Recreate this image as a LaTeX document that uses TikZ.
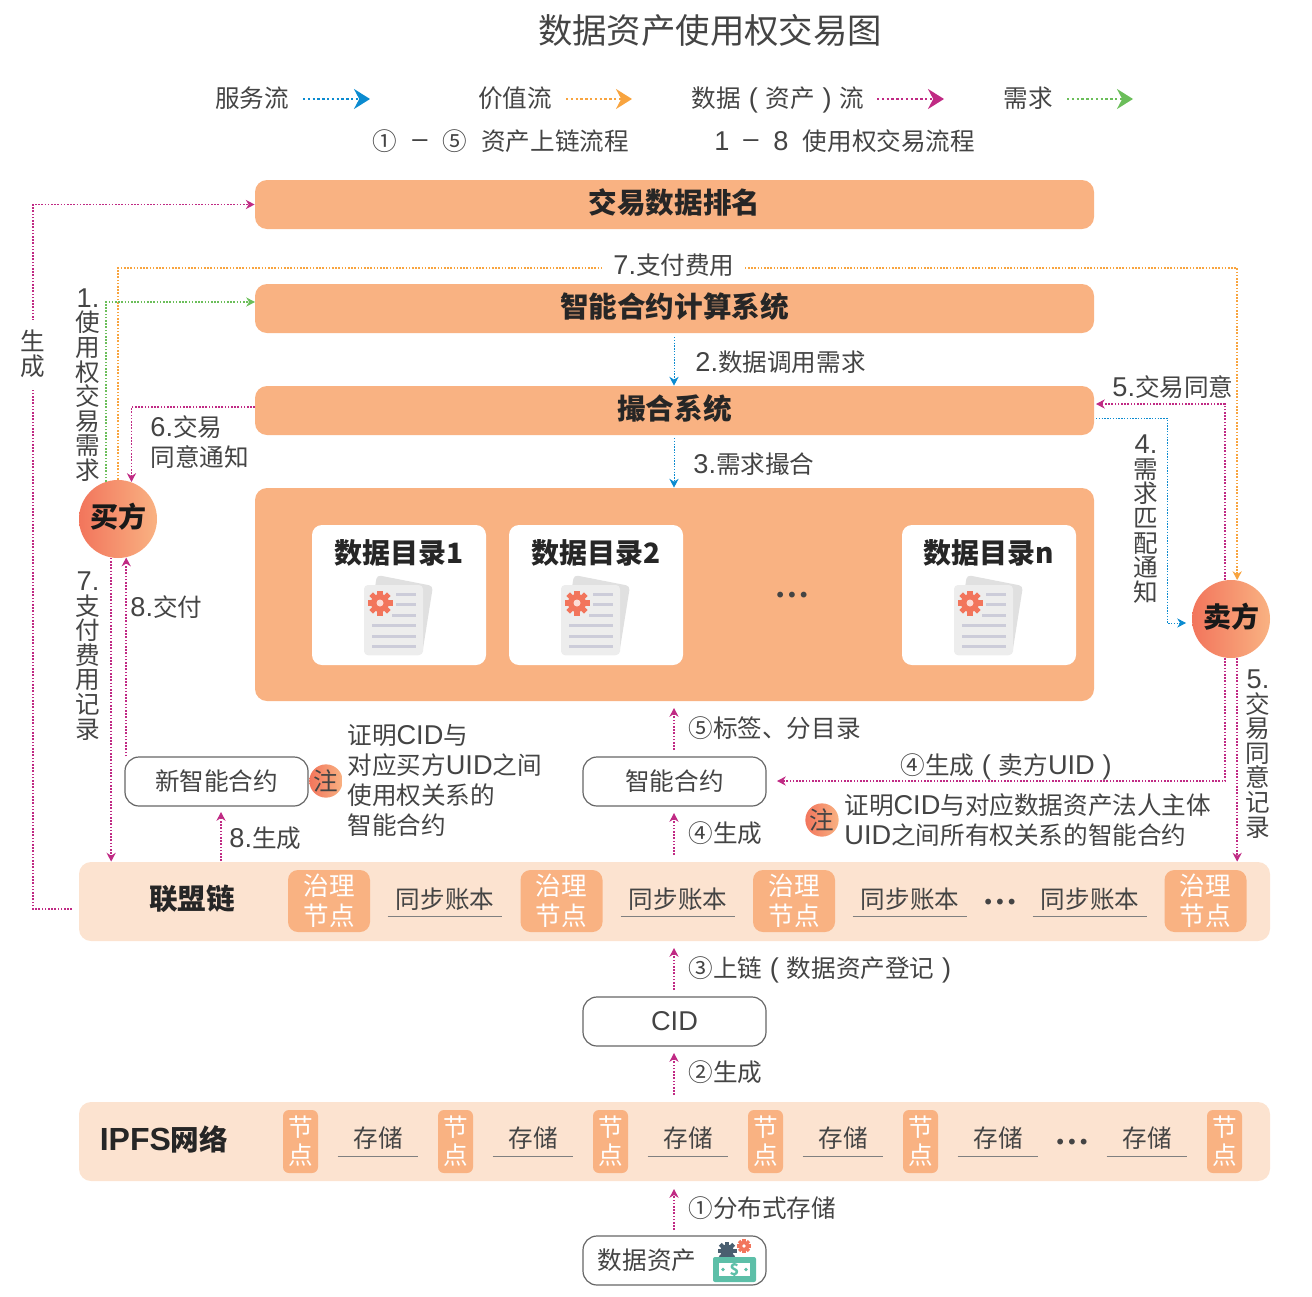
\documentclass[tikz,border=0pt]{standalone}
\usepackage{fontspec}
\usepackage{tikz}
\usepackage{xcolor}
\usetikzlibrary{arrows.meta}
\setmainfont{Noto Sans CJK SC}
\newfontfamily\latinfont{Liberation Sans}
\newfontfamily\dotfont{DejaVu Sans}
\newcommand{\lat}[1]{{\latinfont\fontsize{13.6}{15}\selectfont #1}}
\newcommand{\lpar}{\makebox[1em]{\lat{(}}}
\newcommand{\rpar}{\makebox[1em]{\lat{)}}}
\lineskiplimit-8pt

\definecolor{barorange}{HTML}{F9B282}
\definecolor{palebar}{HTML}{FCE3D0}
\definecolor{redstart}{HTML}{F2755C}
\definecolor{inkgrey}{HTML}{444444}
\definecolor{flowblue}{HTML}{0B8BD0}
\definecolor{floworange}{HTML}{F7941D}
\definecolor{flowpink}{HTML}{B5046E}
\definecolor{flowgreen}{HTML}{6BBE5A}
\definecolor{billgreen}{HTML}{5DBFA8}
\definecolor{geardark}{HTML}{4A5F70}

\tikzset{
	txt/.style={inner sep=0pt, text=inkgrey, font=\fontsize{12.3}{15}\selectfont},
	lefttxt/.style={txt, anchor=west, align=left},
	stack/.style={inner sep=0pt, text=inkgrey, align=center, font=\fontsize{12.3}{12.3}\selectfont},
	bar/.style={fill=barorange, rounded corners=6pt, minimum width=419.5pt, minimum height=24.5pt, inner sep=0pt, text height=12pt, text depth=3.2pt, font=\fontsize{14.3}{15}\selectfont\bfseries, text=black!85},
	pale/.style={fill=palebar, rounded corners=6pt, minimum width=595.5pt, minimum height=39.5pt, inner sep=0pt},
	card/.style={fill=white, rounded corners=5pt, minimum width=87pt, minimum height=70pt, inner sep=0pt},
	cardhead/.style={inner sep=0pt, font=\fontsize{14}{15}\selectfont\bfseries, text=black!85},
	party/.style={circle, left color=redstart, right color=barorange, minimum size=39pt, inner sep=0pt, text height=12pt, text depth=3.2pt, font=\fontsize{14}{15}\selectfont\bfseries, text=black!90},
	note/.style={circle, left color=redstart, right color=barorange, minimum size=16pt, inner sep=0pt, text=inkgrey, font=\fontsize{12.3}{15}\selectfont},
	outline/.style={draw=black!60, line width=0.6pt, fill=white, rounded corners=7pt, minimum width=91.5pt, minimum height=24.5pt, inner sep=0pt, text=inkgrey, font=\fontsize{12.3}{15}\selectfont},
	govern/.style={fill=barorange, rounded corners=5pt, minimum width=41pt, minimum height=31pt, inner sep=0pt, align=center, text=white, font=\fontsize{12.8}{15}\selectfont},
	peer/.style={fill=barorange, rounded corners=3pt, minimum width=17.5pt, minimum height=31.5pt, inner sep=0pt, align=center, text=white, font=\fontsize{12.3}{14}\selectfont},
	ledger/.style={txt, minimum width=57pt, minimum height=17pt},
	store/.style={txt, minimum width=40pt, minimum height=18pt},
	rule/.style={draw=black!50, line width=0.5pt},
	ddd/.style={inner sep=0pt, text=inkgrey, font=\dotfont\fontsize{10}{10}\selectfont},
	>={Stealth[length=4.4pt, width=4.6pt]},
	bluef/.style={draw=flowblue, line width=0.5pt, dash pattern=on 0.7pt off 0.7pt, ->},
	orangef/.style={draw=floworange!85, line width=0.7pt, dash pattern=on 0.8pt off 0.8pt, ->},
	pinkf/.style={draw=flowpink!85, line width=0.7pt, dash pattern=on 0.8pt off 0.8pt, ->},
	greenf/.style={draw=flowgreen, line width=0.7pt, dash pattern=on 0.8pt off 0.8pt, ->},
	bigtip/.style={>={Stealth[length=8pt, width=10pt]}, line width=1pt, dash pattern=on 1.2pt off 1.2pt},
	docicon/.pic={
		\fill[fill=black!12, rounded corners=2pt] (-22,-35) -- (34,-24) -- (23,45) -- (-35,45) -- cycle;
		\fill[fill=black!7, rounded corners=2pt] (-35,-25) rectangle (24,45);
		\foreach \ly/\lx in {-16/-3,-6/-3,5/-7,15/-27,26/-27,36/-27}
			\fill[fill=blue!25!black!20] (\lx,\ly-1.5) rectangle (17,\ly+1.5);
		\fill[fill=redstart] (-19,-7) circle (9);
		\foreach \a in {0,45,...,315}
			\fill[fill=redstart, shift={(-19,-7)}, rotate=\a] (-2.6,-12.5) rectangle (2.6,0);
		\fill[fill=white!75!redstart] (-19,-7) circle (3.5);
	},
}

\begin{document}
\begin{tikzpicture}[x=0.5pt, y=-0.5pt]
	\useasboundingbox (0,0) rectangle (1312,1296);

	% title and legend
	\node[inner sep=0pt, text=inkgrey, font=\fontsize{17.2}{18}\selectfont] (title) at (710,30) {数据资产使用权交易图};
	\node[txt] (lgserve) at (252,98) {服务流};
	\node[txt] (lgvalue) at (515,98) {价值流};
	\node[txt] (lgdata) at (778,100) {数据\lpar 资产\rpar 流};
	\node[txt] (lgneed) at (1028,98) {需求};
	\coordinate (a1) at (303,99);
	\coordinate (b1) at (370,99);
	\coordinate (a2) at (566,99);
	\coordinate (b2) at (632,99);
	\coordinate (a3) at (877,99);
	\coordinate (b3) at (944,99);
	\coordinate (a4) at (1067,99);
	\coordinate (b4) at (1133,99);
	\draw[bluef, bigtip] (a1) to (b1);
	\draw[orangef, bigtip] (a2) to (b2);
	\draw[pinkf, bigtip] (a3) to (b3);
	\draw[greenf, bigtip] (a4) to (b4);
	\node[txt] (k1) at (385,141) {①};
	\node[txt] (k2) at (420,144) {\lat{–}};
	\node[txt] (k3) at (455,141) {⑤};
	\node[txt] (k4) at (555,141) {资产上链流程};
	\node[txt] (k5) at (722,141) {\lat{1}};
	\node[txt] (k6) at (751,144) {\lat{–}};
	\node[txt] (k7) at (781,141) {\lat{8}};
	\node[txt] (k8) at (889,141) {使用权交易流程};

	% platform bars
	\node[bar] (rank) at (674.5,204.5) {交易数据排名};
	\node[bar] (smart) at (674.5,308.5) {智能合约计算系统};
	\node[bar] (match) at (674.5,410.5) {撮合系统};
	\node[bar, minimum height=106.5pt] (market) at (674.5,594.5) {};
	\foreach \i/\x/\t in {1/399/数据目录1, 2/596/数据目录2, 3/989/数据目录n} {
		\node[card] (cat\i) at (\x,595) {};
		\node[cardhead] (head\i) at (\x,553) {\t};
		\pic at (\x,610) {docicon};
	}
	\node[ddd] (catdots) at (792,597) {•••};

	% parties
	\node[party] (buyer) at (118,519) {买方};
	\node[party] (seller) at (1231,619) {卖方};

	% contracts
	\node[outline] (newcontract) at (216.5,781.5) {新智能合约};
	\node[outline] (contract) at (674.5,781.5) {智能合约};
	\node[outline] (cid) at (674.5,1021.5) {\lat{CID}};
	\node[outline] (asset) at (674.5,1260.5) {};
	\node[txt] (assettext) at (647,1260) {数据资产};
	\node[note] (note1) at (326,781) {注};
	\node[note] (note2) at (822,820) {注};
	\node[lefttxt] (notetext1) at (347,780) {证明\lat{CID}与\\对应买方\lat{UID}之间\\使用权关系的\\智能合约};
	\node[lefttxt] (notetext2) at (844,820) {证明\lat{CID}与对应数据资产法人主体\\\lat{UID}之间所有权关系的智能合约};

	% asset icon
	\fill[fill=geardark] (727,1251) circle (6.5);
	\foreach \a in {0,45,...,315}
		\fill[fill=geardark, shift={(727,1251)}, rotate=\a] (-2,-9.5) rectangle (2,0);
	\fill[fill=redstart] (744,1246) circle (4.5);
	\foreach \a in {0,45,...,315}
		\fill[fill=redstart, shift={(744,1246)}, rotate=\a] (-1.6,-7) rectangle (1.6,0);
	\fill[fill=white] (744,1246) circle (1.8);
	\fill[fill=billgreen, rounded corners=1pt] (713,1257) rectangle (756,1282);
	\fill[fill=white] (719,1263) rectangle (750,1276);
	\fill[fill=billgreen] (723,1269.5) circle (1.8) (746,1269.5) circle (1.8);
	\node[inner sep=0pt, text=billgreen, font=\fontsize{8}{9}\selectfont\bfseries] (dollar) at (734.5,1269.5) {\$};

	% consortium chain
	\node[pale] (chain) at (674.5,901.5) {};
	\node[inner sep=0pt, text=black!85, font=\fontsize{14.3}{15}\selectfont\bfseries] (chainname) at (192,899) {联盟链};
	\foreach \i/\x in {1/329,2/561.5,3/794,4/1205.5}
		\node[govern] (gov\i) at (\x,901) {治理\\节点};
	\foreach \i/\x in {1/445,2/678,3/910,4/1090} {
		\node[ledger] (led\i) at (\x,899) {同步账本};
		\draw[rule] (led\i.south west) to (led\i.south east);
	}
	\node[ddd] (chaindots) at (1000,904) {•••};

	% ipfs
	\node[pale] (ipfs) at (674.5,1141.5) {};
	\node[inner sep=0pt, text=black!85, font=\fontsize{14.3}{15}\selectfont\bfseries] (ipfsname) at (164,1139) {{\latinfont\fontsize{16}{15}\selectfont IPFS}网络};
	\foreach \i/\x in {1/300.5,2/455.5,3/610.5,4/765.5,5/920.5,6/1224.5}
		\node[peer] (peer\i) at (\x,1141.5) {节\\点};
	\foreach \i/\x in {1/378,2/533,3/688,4/843,5/998,6/1147} {
		\node[store] (sto\i) at (\x,1138) {存储};
		\draw[rule] (sto\i.south west) to (sto\i.south east);
	}
	\node[ddd] (ipfsdots) at (1072,1144) {•••};

	% free ends of connectors
	\coordinate (chainout) at (72,909);
	\coordinate (smartin) at (255,302);
	\coordinate (matchout) at (255,407);
	\coordinate (matchin) at (1096,404);
	\coordinate (matchoff) at (1096,418);
	\coordinate (sellerin) at (1186,623);
	\coordinate (contractin) at (777,781);
	\coordinate (assettop) at (674,1230);
	\coordinate (ipfsdown) at (674,1189);
	\coordinate (ipfsup) at (674,1095);
	\coordinate (cidup) at (674,1053);
	\coordinate (cidtop) at (674,990);
	\coordinate (chainlow) at (674,948);
	\coordinate (chainup) at (674,855);
	\coordinate (conlow) at (674,813);
	\coordinate (contop) at (674,750);
	\coordinate (marketlow) at (674,708);
	\coordinate (smartlow) at (674,337);
	\coordinate (matchlow) at (674,438);
	\coordinate (genlow) at (221,861);
	\coordinate (genup) at (221,812);

	% connectors
	\draw[pinkf] (chainout) -- (33,909) |- (rank.west);
	\draw[orangef] (buyer.90) -- (118,268) -| (seller.81);
	\draw[greenf] (buyer.108) |- (smartin);
	\draw[pinkf] (matchout) -| (buyer.70);
	\draw[bluef] (smartlow) to (match.north -| smartlow);
	\draw[bluef] (matchlow) to (market.north -| matchlow);
	\draw[pinkf] (seller.99) |- (matchin);
	\draw[bluef] (matchoff) -- (1167,418) |- (sellerin);
	\draw[pinkf] (seller.279) to (chain.north -| seller.279);
	\draw[pinkf] (seller.261) |- (contractin);
	\draw[pinkf] (buyer.260) to (chain.north -| buyer.260);
	\draw[pinkf] (newcontract.north -| buyer.282) to (buyer.282);
	\draw[pinkf] (genlow) to (genup);
	\draw[pinkf] (assettop) to (ipfsdown);
	\draw[pinkf] (ipfsup) to (cidup);
	\draw[pinkf] (cidtop) to (chainlow);
	\draw[pinkf] (chainup) to (conlow);
	\draw[pinkf] (contop) to (marketlow);

	% connector labels
	\node[stack, fill=white, inner ysep=5pt] (lbgen) at (33,354) {生\\成};
	\node[txt, fill=white, inner xsep=5pt] (lbpay) at (674,265) {\lat{7.}支付费用};
	\node[stack] (lb1) at (88,385) {\lat{1.}\\使\\用\\权\\交\\易\\需\\求};
	\node[lefttxt] (lb2) at (695,362) {\lat{2.}数据调用需求};
	\node[lefttxt] (lb3) at (693,464) {\lat{3.}需求撮合};
	\node[stack] (lb4) at (1146,519) {\lat{4.}\\需\\求\\匹\\配\\通\\知};
	\node[lefttxt] (lb5) at (1112,387) {\lat{5.}交易同意};
	\node[stack] (lb5b) at (1258,754) {\lat{5.}\\交\\易\\同\\意\\记\\录};
	\node[lefttxt] (lb6) at (150,442) {\lat{6.}交易\\同意通知};
	\node[stack] (lb7) at (88,656) {\lat{7.}\\支\\付\\费\\用\\记\\录};
	\node[lefttxt] (lb8) at (130,607) {\lat{8.}交付};
	\node[lefttxt] (lb8b) at (229,838) {\lat{8.}生成};
	\node[lefttxt] (st1) at (688,1208) {①分布式存储};
	\node[lefttxt] (st2) at (688,1072) {②生成};
	\node[lefttxt] (st3) at (688,970) {③上链\lpar 数据资产登记\rpar};
	\node[lefttxt] (st4) at (688,833) {④生成};
	\node[lefttxt] (st4b) at (900,767) {④生成\lpar 卖方\lat{UID}\rpar};
	\node[lefttxt] (st5) at (688,728) {⑤标签、分目录};
\end{tikzpicture}
\end{document}
